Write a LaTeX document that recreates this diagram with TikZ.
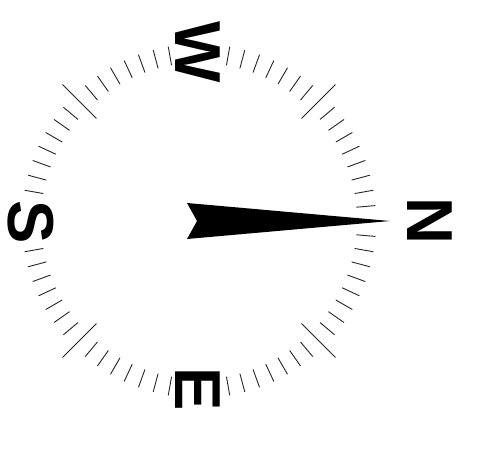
\documentclass[tikz,border=0pt]{standalone}
\usepackage{fontspec}
\setmainfont{Liberation Sans}
\usepackage{tikz}

\begin{document}
\begin{tikzpicture}[
  x=1pt, y=1pt,
  tick/.style={line width=0.9pt, black!85},
  bigtick/.style={line width=0.9pt, black!85},
  letter/.style={inner sep=0pt, rotate=-90, font=\fontsize{65}{65}\selectfont\bfseries},
  needle/.style={fill=black}
]
\useasboundingbox (-199,-228) rectangle (287,221);

% ticks every 5 degrees, none under the letters
\foreach \a in {5,10,...,355}{
  \pgfmathtruncatemacro{\m}{mod(\a,90)}
  \pgfmathtruncatemacro{\gap}{and(\a>80,\a<280)*or(\m<6,\m>84)}
  \ifnum\gap=0
    \ifnum\m=45
      \draw[bigtick] (\a:145) -- (\a:193);
    \else
      \draw[tick] (\a:158) -- (\a:177);
    \fi
  \fi
}

\node[letter] (north) at (230.5,0) {N};
\node[letter] (west) at (-1.5,169) {W};
\node[letter] (south) at (-168,-1) {S};
\node[letter] (east) at (-1,-168.5) {E};

% needle
\fill[needle] (191,0) -- (-12,18) -- (-2,0) -- (-12,-18) -- cycle;

\end{tikzpicture}
\end{document}
